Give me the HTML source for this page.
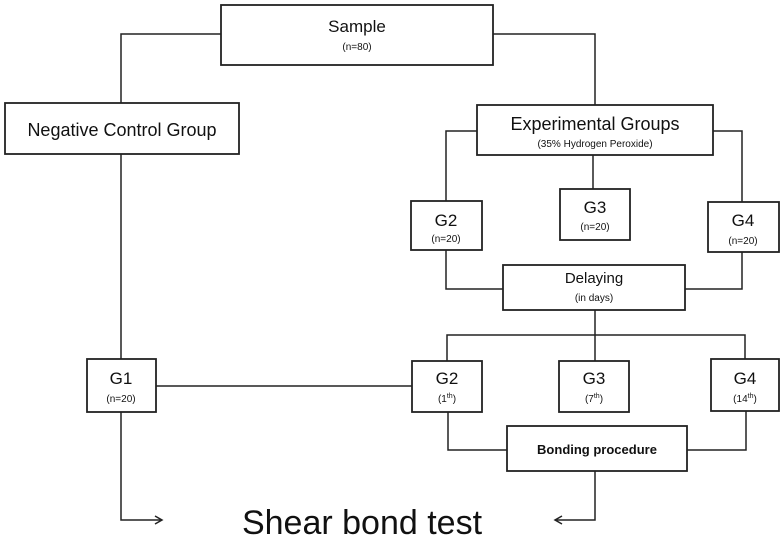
<!DOCTYPE html>
<html><head><style>
body{margin:0;background:#fff;width:784px;height:539px;overflow:hidden}
svg text{font-family:"Liberation Sans",Arial,sans-serif;fill:#111;text-anchor:middle}
</style></head><body>
<svg width="784" height="539" viewBox="0 0 784 539" xmlns="http://www.w3.org/2000/svg">
<g fill="none" stroke="#222" stroke-width="1.5">
<polyline points="221,34 121,34 121,103"/>
<polyline points="493,34 595,34 595,105"/>
<line x1="121" y1="154" x2="121" y2="359"/>
<polyline points="477,131 446,131 446,201"/>
<line x1="593" y1="155" x2="593" y2="189"/>
<polyline points="713,131 742,131 742,202"/>
<polyline points="446,250 446,289 503,289"/>
<polyline points="742,252 742,289 685,289"/>
<line x1="595" y1="310" x2="595" y2="335"/>
<polyline points="447,361 447,335 745,335 745,359"/>
<line x1="595" y1="335" x2="595" y2="361"/>
<line x1="156" y1="386" x2="412" y2="386"/>
<polyline points="448,412 448,450 507,450"/>
<polyline points="746,411 746,450 687,450"/>
<polyline points="595,471 595,520 555,520"/>
<polyline points="562,516 555,520 562,524"/>
<polyline points="121,412 121,520 162,520"/>
<polyline points="155,516 162,520 155,524"/>
</g>
<g fill="#fff" stroke="#222" stroke-width="1.8">
<rect x="221" y="5" width="272" height="60"/>
<rect x="5" y="103" width="234" height="51"/>
<rect x="477" y="105" width="236" height="50"/>
<rect x="411" y="201" width="71" height="49"/>
<rect x="560" y="189" width="70" height="51"/>
<rect x="708" y="202" width="71" height="50"/>
<rect x="503" y="265" width="182" height="45"/>
<rect x="87" y="359" width="69" height="53"/>
<rect x="412" y="361" width="70" height="51"/>
<rect x="559" y="361" width="70" height="51"/>
<rect x="711" y="359" width="68" height="52"/>
<rect x="507" y="426" width="180" height="45"/>
</g>
<text x="357" y="32" font-size="17">Sample</text>
<text x="357" y="50" font-size="10">(n=80)</text>
<text x="122" y="136" font-size="18">Negative Control Group</text>
<text x="595" y="130" font-size="18">Experimental Groups</text>
<text x="595" y="147" font-size="10">(35% Hydrogen Peroxide)</text>
<text x="446" y="226" font-size="17">G2</text>
<text x="446" y="242" font-size="10">(n=20)</text>
<text x="595" y="213" font-size="17">G3</text>
<text x="595" y="230" font-size="10">(n=20)</text>
<text x="743" y="226" font-size="17">G4</text>
<text x="743" y="244" font-size="10">(n=20)</text>
<text x="594" y="283" font-size="15">Delaying</text>
<text x="594" y="301" font-size="10">(in days)</text>
<text x="121" y="384" font-size="17">G1</text>
<text x="121" y="402" font-size="10">(n=20)</text>
<text x="447" y="384" font-size="17">G2</text>
<text x="447" y="402" font-size="10">(1<tspan font-size="7" dy="-4">th</tspan><tspan dy="4">)</tspan></text>
<text x="594" y="384" font-size="17">G3</text>
<text x="594" y="402" font-size="10">(7<tspan font-size="7" dy="-4">th</tspan><tspan dy="4">)</tspan></text>
<text x="745" y="384" font-size="17">G4</text>
<text x="745" y="402" font-size="10">(14<tspan font-size="7" dy="-4">th</tspan><tspan dy="4">)</tspan></text>
<text x="597" y="454" font-size="13" font-weight="bold">Bonding procedure</text>
<text x="362" y="534" font-size="34">Shear bond test</text>
</svg>
</body></html>
